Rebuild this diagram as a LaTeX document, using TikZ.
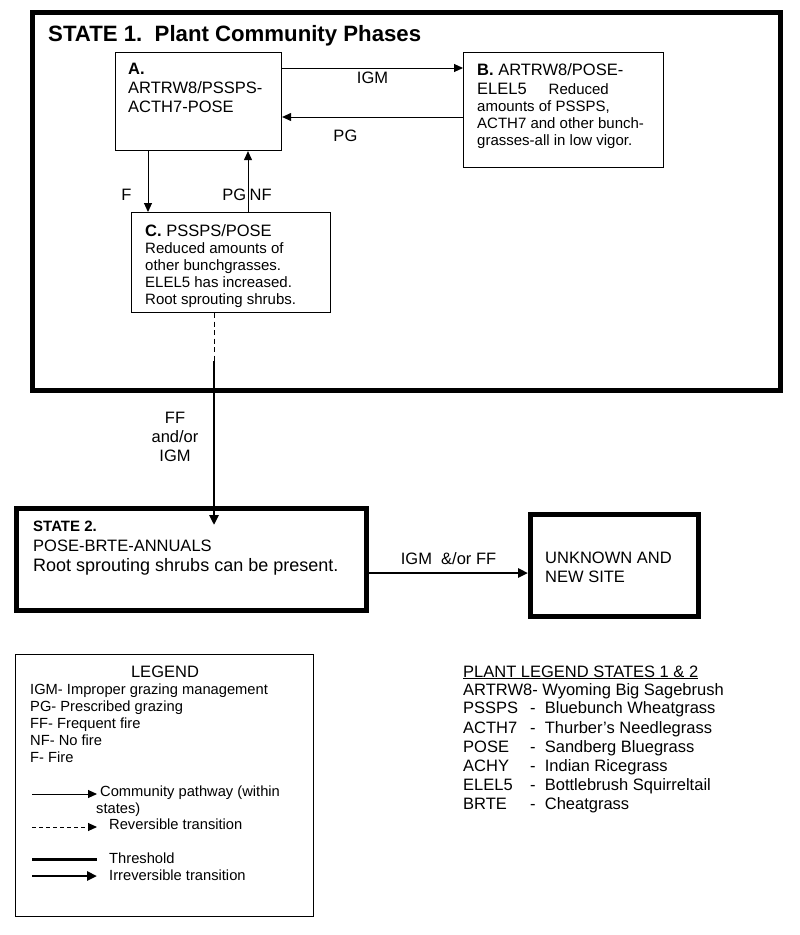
\documentclass[tikz,border=0pt]{standalone}
\usepackage{fontspec}
\setmainfont{Liberation Sans}
\usetikzlibrary{arrows.meta,positioning,calc}

\newcommand\bigtxt{\fontsize{16.5}{19}\selectfont}
\newcommand\smalltxt{\fontsize{15}{17}\selectfont}
\newcommand\legtxt{\fontsize{14.7}{17}\selectfont}

\tikzset{
  phase/.style={draw, line width=1.1pt, anchor=north west, inner sep=0pt},
  statebox/.style={draw, line width=5pt, anchor=north west, inner sep=0pt},
  txt/.style={anchor=north west, inner sep=0pt, align=left},
  lbl/.style={inner sep=0pt, font=\bigtxt},
  pathway/.style={line width=1pt, -{Triangle[length=9pt,width=8pt]}},
  transition/.style={line width=2.6pt, -{Triangle[length=10pt,width=9pt]}},
}

\begin{document}
\begin{tikzpicture}[x=1pt,y=-1pt]
    \useasboundingbox (0,0) rectangle (800,935);

    % state 1 and its phases
    \node[statebox, minimum width=748pt, minimum height=378pt] (S1) at (30,10) {};
    \node[anchor=base west, inner sep=0pt, font=\fontsize{22.2}{25}\selectfont\bfseries] (title) at (48,41) {STATE 1.\ \ Plant Community Phases};

    \node[phase, minimum width=166pt, minimum height=98pt] (A) at (115,52) {};
    \node[phase, minimum width=200pt, minimum height=115pt] (B) at (463,52) {};
    \node[phase, minimum width=199pt, minimum height=100pt] (C) at (131,212) {};

    \node[txt, font=\bigtxt] (Atext) at (128,63) {\textbf{A.}\\ARTRW8/PSSPS-\\ACTH7-POSE};
    \node[txt, font=\smalltxt] (Btext) at (477,63) {{\bigtxt\textbf{B.} ARTRW8/POSE-}\\[2pt]{\bigtxt ELEL5}\hspace{22pt}Reduced\\amounts of PSSPS,\\ACTH7 and other bunch-\\grasses-all in low vigor.};
    \node[txt, font=\smalltxt] (Ctext) at (145,224) {{\bigtxt\textbf{C.} PSSPS/POSE}\\Reduced amounts of\\other bunchgrasses.\\ELEL5 has increased.\\Root sprouting shrubs.};

    % community pathways
    \draw[pathway] (A.east |- 0,68) -- (B.west |- 0,68) node[lbl, midway, below=3pt] (igm) {IGM};
    \draw[pathway] (B.west |- 0,117) -- (A.east |- 0,117) node[lbl, pos=0.65, below=12pt] (pg) {PG};
    \draw[pathway] (A.south -| 148,0) -- (C.north -| 148,0) node[lbl, pos=0.71, left=16pt] (fire) {F};
    \draw[pathway] (C.north -| 248,0) -- (A.south -| 248,0);
    \node[lbl, anchor=east] (pgl) at (246.5,195) {PG};
    \node[lbl, anchor=west] (nfl) at (249.5,195) {NF};

    % state 2 and unknown site
    \node[statebox, minimum width=350pt, minimum height=102pt] (S2) at (14,506) {};
    \node[statebox, minimum width=168pt, minimum height=102pt] (U) at (528,512) {};
    \node[txt, font=\fontsize{18}{20}\selectfont] (S2text) at (33,520.7) {{\fontsize{15}{17}\selectfont\bfseries STATE 2.}\\{\bigtxt POSE-BRTE-ANNUALS}\\Root sprouting shrubs can be present.};
    \node[txt, font=\bigtxt] (Utext) at (545,552) {UNKNOWN AND\\NEW SITE};

    % transitions
    \coordinate (cut) at (214,361);
    \draw[line width=1pt, dash pattern=on 5pt off 3.5pt] (C.south -| cut) -- (cut);
    \draw[transition] (cut) -- ($(S2.north -| cut)+(0,19)$);
    \node[lbl, align=center] (ffigm) at (175,437) {FF\\and/or\\IGM};
    \draw[transition] (S2.east |- 0,573) -- (U.west |- 0,573) node[lbl, midway, above=7pt] (igmff) {IGM\ \ \&/or FF};

    % legend
    \node[draw, line width=1pt, anchor=north west, minimum width=298pt, minimum height=262pt] (L) at (15,654) {};
    \node[lbl] (legtitle) at (165,672) {LEGEND};
    \node[txt, font=\legtxt] (legtext) at (30,683.7) {IGM- Improper grazing management\\PG- Prescribed grazing\\FF- Frequent fire\\NF- No fire\\F- Fire};

    \draw[pathway] (32,794) -- (97,794);
    \draw[pathway, dash pattern=on 4pt off 3pt] (32,827) -- (97,827);
    \draw[line width=3pt] (32,859) -- (97,859);
    \draw[transition] (32,876) -- (97,876);
    \node[txt, font=\legtxt] (leg1) at (100,785.7) {Community pathway (within\\\hspace{-4pt}states)};
    \foreach \y/\t in {824/Reversible transition, 858/Threshold, 875/Irreversible transition}
    {   \node[anchor=west, inner sep=0pt, font=\legtxt] at (109,\y) {\t};}

    % plant legend
    \node[lbl, anchor=base west] (plhead) at (463,677) {\underline{PLANT LEGEND STATES 1 \& 2}};
    \node[lbl, anchor=base west] (plant0) at (463,695) {ARTRW8- Wyoming Big Sagebrush};
    \foreach \code/\name [count=\i] in {PSSPS/Bluebunch Wheatgrass, ACTH7/Thurber’s Needlegrass,
        POSE/Sandberg Bluegrass, ACHY/Indian Ricegrass, ELEL5/Bottlebrush Squirreltail, BRTE/Cheatgrass}
    {   \node[lbl, anchor=base west] (code\i) at (463,{694.8+19.1*\i}) {\code};
        \node[lbl, anchor=base west] (plant\i) at (530,{694.8+19.1*\i}) {-\ \ \name};}

\end{tikzpicture}
\end{document}
